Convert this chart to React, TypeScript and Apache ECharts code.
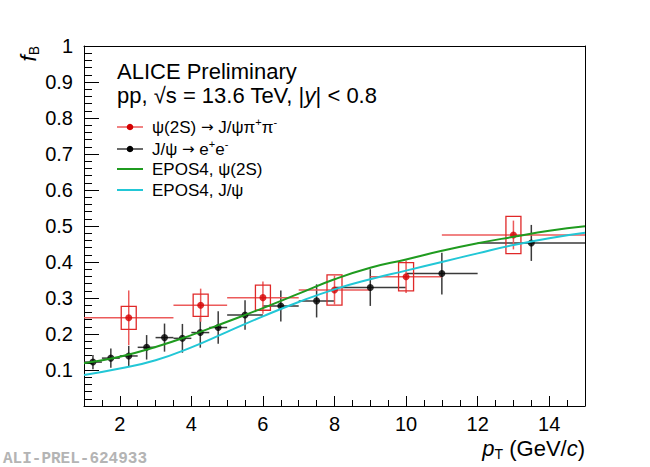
import React, { useEffect, useRef } from "react";
import * as echarts from "echarts";

// J/psi -> e+e- (black)
const jpsiX = [1.25, 1.75, 2.25, 2.75, 3.25, 3.75, 4.25, 4.75, 5.5, 6.5, 7.5, 9.0, 11.0, 13.5];
const jpsiY = [0.122, 0.133, 0.139, 0.163, 0.19, 0.188, 0.204, 0.218, 0.253, 0.278, 0.292, 0.329, 0.368, 0.453];
const jpsiLo = [1, 1.5, 2, 2.5, 3, 3.5, 4, 4.5, 5, 6, 7, 8, 10, 12];
const jpsiHi = [1.5, 2, 2.5, 3, 3.5, 4, 4.5, 5, 6, 7, 8, 10, 12, 15];
const jpsiErr = [0.02, 0.027, 0.028, 0.034, 0.039, 0.04, 0.042, 0.045, 0.041, 0.043, 0.046, 0.051, 0.058, 0.05];

// psi(2S) -> J/psi pi+ pi- (red)
const psiX = [2.25, 4.26, 6.0, 8.0, 10.0, 13.0];
const psiY = [0.245, 0.28, 0.301, 0.322, 0.359, 0.475];
const psiLo = [1, 3.5, 5, 7, 9, 11];
const psiHi = [3.5, 5, 7, 9, 11, 15];
const psiStat = [0.076, 0.046, 0.045, 0.04, 0.045, 0.04];
const psiSys = [0.032, 0.031, 0.035, 0.042, 0.039, 0.052];

// EPOS4 predictions
const curveX = [1, 2, 3, 4, 5, 6, 7, 8, 9, 10, 11, 12, 13, 14, 15];
const eposPsi2S = [0.119, 0.137, 0.164, 0.197, 0.234, 0.272, 0.312, 0.352, 0.384, 0.407, 0.431, 0.452, 0.47, 0.487, 0.499];
const eposJpsi = [0.086, 0.104, 0.127, 0.163, 0.206, 0.249, 0.289, 0.324, 0.352, 0.376, 0.4, 0.424, 0.447, 0.466, 0.481];

const xMajor = [2, 4, 6, 8, 10, 12, 14];

const FONT = "Liberation Sans";
const RED = "#d40000";
const RED_BAR = "#ec5a5a";
const BLACK_BAR = "#3a3a3a";
const GREEN = "#1f9b1f";
const CYAN = "#22c7d6";

export default function App() {
  const ref = useRef<HTMLDivElement | null>(null);

  useEffect(() => {
    const chart = echarts.init(ref.current!, null, { renderer: "svg" });

    const errBars = (color: string, width: number) => (params: any, api: any) => {
      const x = api.value(0), y = api.value(1);
      const lo = api.coord([api.value(2), y]);
      const hi = api.coord([api.value(3), y]);
      const top = api.coord([x, y + api.value(4)]);
      const bot = api.coord([x, y - api.value(4)]);
      const children: any[] = [
        { type: "line", shape: { x1: lo[0], y1: lo[1], x2: hi[0], y2: hi[1] }, style: { stroke: color, lineWidth: width } },
        { type: "line", shape: { x1: top[0], y1: top[1], x2: bot[0], y2: bot[1] }, style: { stroke: color, lineWidth: width } },
      ];
      const sys = api.value(5);
      if (sys) {
        const a = api.coord([x, y + sys]);
        const b = api.coord([x, y - sys]);
        children.push({
          type: "rect",
          shape: { x: a[0] - 7.5, y: a[1], width: 15, height: b[1] - a[1] },
          style: { stroke: "#e02828", fill: "none", lineWidth: 1.3 },
        });
      }
      return { type: "group", children };
    };

    const sup = { fontFamily: FONT, fontSize: 11, lineHeight: 10, verticalAlign: "top" };
    const arrow = { fontFamily: "DejaVu Sans", fontSize: 15, lineHeight: 22 };
    const legendText = (y: number, text: string) => ({
      type: "text",
      style: {
        x: 152, y, text, align: "left", verticalAlign: "middle",
        fontFamily: FONT, fontSize: 17, lineHeight: 22, fill: "#000",
        rich: { sup, ar: arrow },
      },
    });

    const hidden = { axisLine: { show: false }, axisTick: { show: false }, axisLabel: { show: false }, splitLine: { show: false } };

    chart.setOption({
      animation: false,
      grid: { left: 84, right: 65, top: 46, bottom: 61 },
      xAxis: [
        {
          type: "value", min: 1, max: 15, interval: 0.5, position: "bottom",
          axisLine: { show: true, lineStyle: { color: "#000" } },
          axisTick: { show: true, inside: true, length: 6, lineStyle: { color: "#000", width: 1 } },
          axisLabel: { show: false },
          splitLine: { show: false },
        },
        {
          type: "value", min: 1, max: 15, position: "bottom",
          axisLine: { show: false },
          axisTick: { show: true, inside: true, length: 10, customValues: xMajor, lineStyle: { color: "#000", width: 1 } },
          axisLabel: { show: true, customValues: xMajor, color: "#000", fontSize: 20, margin: 8, fontFamily: FONT },
          splitLine: { show: false },
        },
        {
          type: "value", min: 1, max: 15, position: "top",
          ...hidden,
          axisLine: { show: true, lineStyle: { color: "#000" } },
        },
      ],
      yAxis: [
        {
          type: "value", min: 0, max: 1, interval: 0.1,
          axisLine: { show: true, lineStyle: { color: "#000" } },
          axisTick: { show: true, inside: true, length: 15, lineStyle: { color: "#000", width: 1 } },
          minorTick: { show: true, splitNumber: 5, length: 8, lineStyle: { color: "#000", width: 1 } },
          axisLabel: {
            show: true, color: "#000", fontSize: 20, margin: 11, fontFamily: FONT,
            formatter: (v: number) => (v === 0 ? "" : v === 1 ? "1" : v.toFixed(1)),
          },
          splitLine: { show: false },
        },
        {
          type: "value", min: 0, max: 1, position: "right",
          ...hidden,
          axisLine: { show: true, lineStyle: { color: "#000" } },
        },
      ],
      series: [
        {
          type: "line", smooth: true, symbol: "none",
          data: curveX.map((x, i) => [x, eposPsi2S[i]]),
          lineStyle: { color: GREEN, width: 2 },
        },
        {
          type: "line", smooth: true, symbol: "none",
          data: curveX.map((x, i) => [x, eposJpsi[i]]),
          lineStyle: { color: CYAN, width: 2 },
        },
        {
          type: "custom",
          renderItem: errBars(BLACK_BAR, 1.5),
          data: jpsiX.map((x, i) => [x, jpsiY[i], jpsiLo[i], jpsiHi[i], jpsiErr[i], 0]),
        },
        {
          type: "scatter", symbol: "circle", symbolSize: 7,
          itemStyle: { color: "#000" },
          data: jpsiX.map((x, i) => [x, jpsiY[i]]),
        },
        {
          type: "custom",
          renderItem: errBars(RED_BAR, 1.5),
          data: psiX.map((x, i) => [x, psiY[i], psiLo[i], psiHi[i], psiStat[i], psiSys[i]]),
        },
        {
          type: "scatter", symbol: "circle", symbolSize: 7,
          itemStyle: { color: RED },
          data: psiX.map((x, i) => [x, psiY[i]]),
        },
      ],
      graphic: {
        elements: [
          {
            type: "text",
            style: { x: 117, y: 71, text: "ALICE Preliminary", fontFamily: FONT, fontSize: 22, fill: "#000", verticalAlign: "middle" },
          },
          {
            type: "text",
            style: {
              x: 117, y: 95, text: "pp, √s = 13.6 TeV, |{i|y}| < 0.8", fontFamily: FONT, fontSize: 22, fill: "#000",
              verticalAlign: "middle", rich: { i: { fontFamily: FONT, fontSize: 22, fontStyle: "italic" } },
            },
          },
          { type: "line", shape: { x1: 117, y1: 127, x2: 143, y2: 127 }, style: { stroke: RED_BAR, lineWidth: 1.5 } },
          { type: "circle", shape: { cx: 130, cy: 127, r: 3.3 }, style: { fill: RED } },
          legendText(127, "ψ(2S) {ar|→} J/ψπ{sup|+}π{sup|-}"),
          { type: "line", shape: { x1: 117, y1: 149, x2: 143, y2: 149 }, style: { stroke: BLACK_BAR, lineWidth: 1.5 } },
          { type: "circle", shape: { cx: 130, cy: 149, r: 3.3 }, style: { fill: "#000" } },
          legendText(149, "J/ψ {ar|→} e{sup|+}e{sup|-}"),
          { type: "line", shape: { x1: 117, y1: 169, x2: 143, y2: 169 }, style: { stroke: GREEN, lineWidth: 2 } },
          legendText(169, "EPOS4, ψ(2S)"),
          { type: "line", shape: { x1: 117, y1: 190, x2: 143, y2: 190 }, style: { stroke: CYAN, lineWidth: 2 } },
          legendText(190, "EPOS4, J/ψ"),
          {
            type: "text", x: 28, y: 46, rotation: Math.PI / 2,
            style: {
              x: 0, y: 0, text: "{i|f}{sub|B}", align: "right", verticalAlign: "middle",
              fontFamily: FONT, fontSize: 22, lineHeight: 26, fill: "#000",
              rich: {
                i: { fontFamily: FONT, fontSize: 22, fontStyle: "italic", lineHeight: 26 },
                sub: { fontFamily: FONT, fontSize: 14, lineHeight: 12, verticalAlign: "bottom" },
              },
            },
          },
          {
            type: "text",
            style: {
              x: 585, y: 448, text: "{i|p}{sub|T} (GeV/{i|c})", align: "right", verticalAlign: "middle",
              fontFamily: FONT, fontSize: 22, lineHeight: 26, fill: "#000",
              rich: {
                i: { fontFamily: FONT, fontSize: 22, fontStyle: "italic", lineHeight: 26 },
                sub: { fontFamily: FONT, fontSize: 14, lineHeight: 12, verticalAlign: "bottom" },
              },
            },
          },
          {
            type: "text",
            style: {
              x: 3, y: 459, text: "ALI-PREL-624933", verticalAlign: "middle",
              fontFamily: "Liberation Mono", fontWeight: "bold", fontSize: 16, fill: "#b4b4b4",
            },
          },
        ],
      },
    });

    return () => chart.dispose();
  }, []);

  return (
    <div
      ref={ref}
      style={{ position: "fixed", left: 0, top: 0, width: 650, height: 467, background: "#fff" }}
    />
  );
}
